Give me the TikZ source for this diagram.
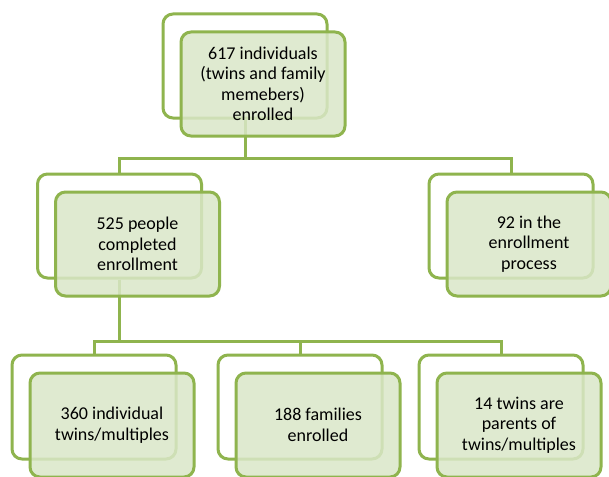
\documentclass[tikz,border=0pt]{standalone}
\usepackage{fontspec}
\setmainfont{Carlito}
\usepackage{xcolor}
\usepackage{tikz}
\usetikzlibrary{positioning}
\definecolor{boxline}{RGB}{143,180,78}
\definecolor{boxfill}{RGB}{218,231,200}
\begin{document}
\begin{tikzpicture}[x=1pt, y=-1pt, back box/.style={draw=boxline, line width=3pt, rounded corners=10pt, fill=white, minimum width=164pt, minimum height=104pt, inner sep=0pt}, front box/.style={draw=boxline, line width=3pt, rounded corners=10pt, fill=boxfill, fill opacity=0.85, text opacity=1, minimum width=164pt, minimum height=104pt, inner sep=0pt, align=center, font=\fontsize{18}{20.5}\selectfont}, link/.style={draw=boxline, line width=3pt}]
	\fill[white] (0,0) rectangle (609,476);
	\useasboundingbox (0,0) rectangle (609,476);
	\node[back box] (TopB) at (245,66) {};
	\node[back box] (LeftB) at (119.5,226) {};
	\node[back box] (RightB) at (511,226) {};
	\node[back box] (TwinsB) at (94,407) {};
	\node[back box] (FamB) at (300,407) {};
	\node[back box] (ParB) at (501,407) {};
	\draw[link] (TopB.south) -- ++(0,39) -| (LeftB.north);
	\draw[link] (TopB.south) -- ++(0,39) -| (RightB.north);
	\draw[link] (LeftB.south) -- ++(0,62) -| (TwinsB.north);
	\draw[link] (LeftB.south) -- ++(0,62) -| (FamB.north);
	\draw[link] (LeftB.south) -- ++(0,62) -| (ParB.north);
	\node[front box] (TopF) at ([shift={(18,18)}]TopB.center) {617 individuals\\(twins and family\\memebers)\\enrolled};
	\node[front box] (LeftF) at ([shift={(18,18)}]LeftB.center) {525 people\\completed\\enrollment};
	\node[front box] (RightF) at ([shift={(18,18)}]RightB.center) {92 in the\\enrollment\\process};
	\node[front box] (TwinsF) at ([shift={(18,18)}]TwinsB.center) {360 individual\\twins/multiples};
	\node[front box] (FamF) at ([shift={(18,18)}]FamB.center) {188 families\\enrolled};
	\node[front box] (ParF) at ([shift={(18,18)}]ParB.center) {14 twins are\\parents of\\twins/multiples};
\end{tikzpicture}
\end{document}
